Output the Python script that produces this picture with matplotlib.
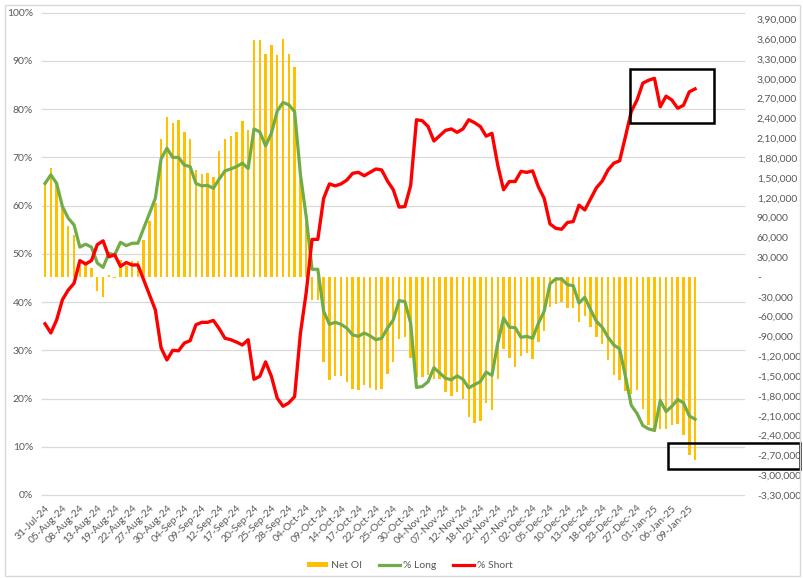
import matplotlib

matplotlib.use("Agg")
import matplotlib.pyplot as plt  # noqa: E402
import numpy as np  # noqa: E402
from matplotlib.lines import Line2D  # noqa: E402
from matplotlib.patches import Patch, Rectangle  # noqa: E402

# every 3rd trading day carries a label; the axis has a few empty slots at the end
date_labels = [
    "31-Jul-24", "05-Aug-24", "08-Aug-24", "13-Aug-24", "19-Aug-24", "22-Aug-24",
    "27-Aug-24", "30-Aug-24", "04-Sep-24", "09-Sep-24", "12-Sep-24", "17-Sep-24",
    "20-Sep-24", "25-Sep-24", "28-Sep-24", "04-Oct-24", "09-Oct-24", "14-Oct-24",
    "17-Oct-24", "22-Oct-24", "25-Oct-24", "30-Oct-24", "04-Nov-24", "07-Nov-24",
    "12-Nov-24", "18-Nov-24", "22-Nov-24", "27-Nov-24", "02-Dec-24", "05-Dec-24",
    "10-Dec-24", "13-Dec-24", "18-Dec-24", "23-Dec-24", "27-Dec-24", "01-Jan-25",
    "06-Jan-25", "09-Jan-25",
]
n_slots = 121

net_oi = [
    141600, 164900, 143800, 104400, 77300, 63500, 18200, 18200, 13100, -21900,
    -30700, 2900, -1500, 26200, 16800, 24800, 24800, 56200, 85400, 111700,
    208700, 242300, 232800, 237900, 219700, 208700, 162000, 156200, 156900, 151800,
    190500, 208700, 213100, 219700, 236500, 222600, 358400, 358400, 337200, 351100,
    335800, 359900, 337200, 317500, 151800, 81700, -35100, -35100, -128500, -155500,
    -150400, -150400, -158500, -169400, -170900, -162800, -167900, -170900, -169400, -146800,
    -128500, -94200, -91300, -121900, -151900, -151900, -149000, -154800, -154800, -174500,
    -179600, -174500, -184700, -211700, -221200, -218300, -190600, -200800, -154800, -109500,
    -122700, -136600, -119000, -115400, -124100, -97900, -82500, -46000, -40200, -38000,
    -47500, -47500, -68700, -59200, -75200, -91300, -101500, -126300, -149000, -156300,
    -173000, -176700, -170900, -200100, -223400, -235100, -230000, -230000, -223400, -222700,
    -238800, -268700, -277400,
]

pct_long = [
    64.6, 66.4, 64.6, 59.8, 57.4, 56.0, 51.4, 52.0, 51.4, 48.1,
    47.2, 50.1, 49.8, 52.4, 51.7, 52.2, 52.2, 55.3, 58.4, 61.5,
    69.7, 71.9, 70.0, 70.0, 68.4, 68.1, 64.6, 64.1, 64.2, 63.6,
    65.5, 67.2, 67.6, 68.1, 68.8, 67.7, 75.9, 75.3, 72.4, 75.0,
    79.6, 81.4, 80.9, 79.5, 66.5, 57.7, 46.8, 46.8, 38.1, 35.4,
    35.8, 35.4, 34.6, 33.2, 32.9, 33.6, 33.0, 32.2, 32.5, 34.6,
    36.3, 40.3, 40.1, 35.6, 22.3, 22.5, 23.5, 26.4, 25.3, 24.2,
    23.9, 24.7, 24.0, 22.2, 22.9, 23.5, 25.5, 24.8, 31.5, 36.7,
    34.8, 34.7, 32.7, 32.9, 32.5, 35.6, 38.1, 43.8, 44.8, 44.8,
    43.6, 43.4, 39.8, 41.0, 38.4, 36.0, 34.8, 32.7, 31.1, 30.3,
    24.6, 18.6, 16.9, 14.4, 13.7, 13.4, 19.6, 17.3, 18.4, 19.8,
    19.1, 16.4, 15.7,
]

pct_short = [
    35.5, 33.6, 36.3, 40.5, 42.5, 43.9, 48.6, 47.9, 48.6, 51.9,
    52.7, 49.4, 49.8, 47.4, 48.2, 47.7, 47.7, 44.6, 41.5, 38.4,
    30.5, 28.0, 30.0, 29.9, 31.5, 32.0, 35.3, 35.8, 35.8, 36.2,
    34.5, 32.5, 32.2, 31.7, 31.1, 32.2, 24.0, 24.6, 27.6, 24.6,
    20.1, 18.4, 19.1, 20.4, 33.5, 42.0, 53.0, 53.0, 61.5, 64.5,
    64.1, 64.5, 65.3, 66.7, 66.9, 66.2, 66.9, 67.6, 67.4, 65.1,
    63.3, 59.7, 59.8, 64.2, 77.8, 77.6, 76.4, 73.4, 74.5, 75.6,
    75.9, 75.2, 75.9, 77.8, 77.2, 76.4, 74.4, 75.0, 68.4, 63.3,
    65.0, 65.0, 67.1, 66.9, 67.2, 63.9, 61.5, 56.2, 55.3, 55.1,
    56.5, 56.7, 60.1, 59.1, 61.4, 63.7, 65.1, 67.4, 68.8, 69.3,
    74.3, 79.5, 81.9, 85.4, 86.0, 86.4, 80.5, 82.7, 81.9, 80.2,
    80.8, 83.6, 84.2,
]

YELLOW = "#FFC000"
GREEN = "#70AD47"
RED = "#FF0000"
TEXT = "#595959"
GRID = "#D9D9D9"

plt.rcParams["font.family"] = ["Lato", "DejaVu Sans"]


def indian_fmt(v, _pos=None):
    if abs(v) < 1:
        return "-"
    s = str(int(round(abs(v))))
    if len(s) > 3:
        head, tail = s[:-3], s[-3:]
        parts = []
        while len(head) > 2:
            parts.insert(0, head[-2:])
            head = head[:-2]
        if head:
            parts.insert(0, head)
        s = ",".join(parts) + "," + tail
    return ("-" if v < 0 else "") + s


fig = plt.figure(figsize=(8.04, 5.78), dpi=100)
ax = fig.add_axes([0.0524, 0.1436, 0.8735, 0.8344])  # bars, values on the right
ax2 = ax.twinx()  # % long / % short, left scale

x = np.arange(len(net_oi))

# horizontal gridlines follow the % scale (0..100 maps to the full axes height)
for p in np.arange(0, 101, 10):
    ax.plot([0, 1], [p / 100, p / 100], transform=ax.transAxes, color=GRID,
            lw=0.9, zorder=0, clip_on=False)

ax.bar(x, net_oi, width=0.42, color=YELLOW, zorder=2)
ax.set_ylim(-330000, 400000)
ax.set_yticks(np.arange(-330000, 390001, 30000))
ax.yaxis.set_major_formatter(plt.FuncFormatter(indian_fmt))
ax.yaxis.tick_right()
ax.tick_params(axis="y", length=0, pad=9, labelsize=7.5, labelcolor=TEXT)

ax2.plot(x, pct_long, color=GREEN, lw=2.3, solid_joinstyle="round")
ax2.plot(x, pct_short, color=RED, lw=2.4, solid_joinstyle="round")
ax2.set_ylim(0, 100)
ax2.set_yticks(np.arange(0, 101, 10))
ax2.yaxis.set_major_formatter(plt.FuncFormatter(lambda v, _p: f"{int(v)}%"))
ax2.yaxis.tick_left()
ax2.tick_params(axis="y", length=0, pad=6.5, labelsize=7.5, labelcolor=TEXT)

ax.set_xlim(-0.5, n_slots - 0.5)
ax.set_xticks(np.arange(0, 3 * len(date_labels), 3))
ax.set_xticklabels(date_labels, rotation=45, ha="right", rotation_mode="anchor")
ax.tick_params(axis="x", length=0, pad=6, labelsize=7.5, labelcolor=TEXT)
ax2.tick_params(axis="x", length=0)

for a in (ax, ax2):
    for side in ("top", "left", "right", "bottom"):
        a.spines[side].set_visible(False)

# highlight boxes
ax2.add_patch(Rectangle((100.7, 77.1), 14.6, 11.2, fill=False, ec="black",
                        lw=1.8, zorder=5, clip_on=False))
ax2.add_patch(Rectangle((107.3, 5.3), 22.8, 5.4, fill=False, ec="black",
                        lw=1.8, zorder=5, clip_on=False))

# chart frame
fig.patches.append(Rectangle((0.006, 0.003), 0.989, 0.988, transform=fig.transFigure,
                             fill=False, ec=GRID, lw=1.0))

handles = [
    Patch(facecolor=YELLOW, edgecolor="none", label="Net OI"),
    Line2D([], [], color=GREEN, lw=2.3, label="% Long"),
    Line2D([], [], color=RED, lw=2.3, label="% Short"),
]
leg = fig.legend(handles=handles, loc="center", bbox_to_anchor=(0.51, 0.021), ncol=3,
                 frameon=False, fontsize=7.5, handlelength=2.0, handleheight=0.45,
                 columnspacing=1.6, handletextpad=0.3)
for t in leg.get_texts():
    t.set_color(TEXT)

fig.savefig("out.png", dpi=100)
